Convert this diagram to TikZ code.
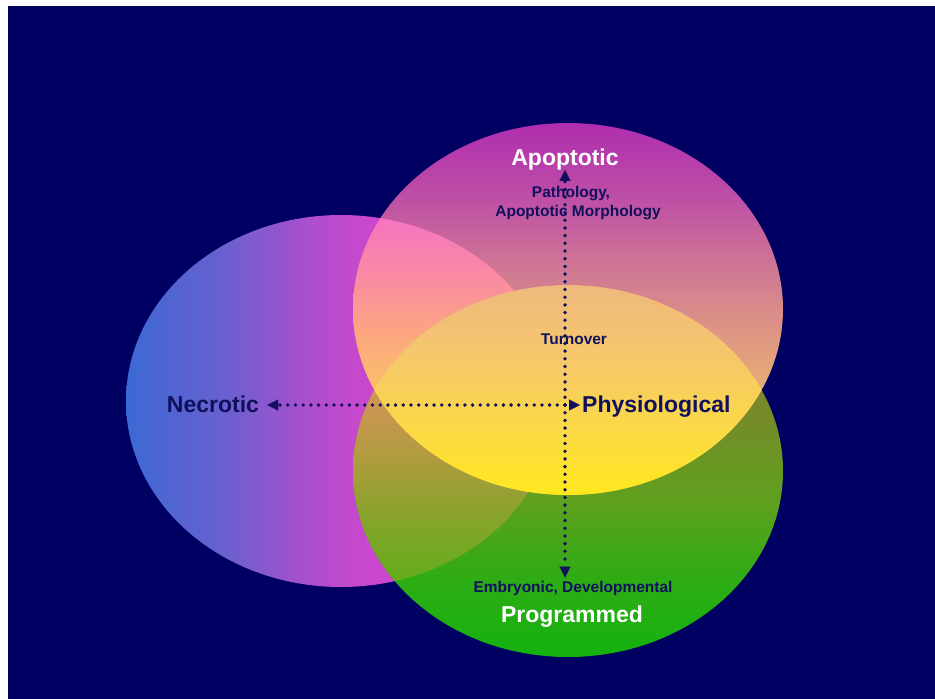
\documentclass[tikz,border=0pt]{standalone}
\usepackage{fontspec}
\setmainfont{Liberation Sans}
\usetikzlibrary{arrows.meta}
\definecolor{navybg}{RGB}{0,0,98}
\definecolor{ink}{RGB}{16,16,92}
% necrotic (horizontal)
\definecolor{n0}{RGB}{58,105,212}
\definecolor{n1}{RGB}{110,95,207}
\definecolor{n2}{RGB}{165,80,205}
\definecolor{n3}{RGB}{200,72,205}
\definecolor{n4}{RGB}{215,68,205}
% apoptotic only
\definecolor{a0}{RGB}{235,185,115}
\definecolor{a1}{RGB}{230,170,120}
\definecolor{a2}{RGB}{222,148,132}
\definecolor{a3}{RGB}{205,115,150}
\definecolor{a4}{RGB}{190,80,165}
\definecolor{a5}{RGB}{175,45,175}
% apoptotic & necrotic
\definecolor{an0}{RGB}{253,210,80}
\definecolor{an1}{RGB}{253,195,100}
\definecolor{an2}{RGB}{252,170,125}
\definecolor{an3}{RGB}{250,140,160}
\definecolor{an4}{RGB}{245,115,195}
% apoptotic & programmed
\definecolor{ap0}{RGB}{255,232,30}
\definecolor{ap1}{RGB}{250,215,75}
\definecolor{ap2}{RGB}{245,198,110}
\definecolor{ap3}{RGB}{238,185,125}
% programmed only
\definecolor{p0}{RGB}{20,178,15}
\definecolor{p1}{RGB}{45,172,20}
\definecolor{p2}{RGB}{95,160,30}
\definecolor{p3}{RGB}{122,135,42}
\definecolor{p4}{RGB}{130,125,50}
% necrotic & programmed
\definecolor{np0}{RGB}{80,176,22}
\definecolor{np1}{RGB}{105,172,30}
\definecolor{np2}{RGB}{140,162,45}
\definecolor{np3}{RGB}{180,155,65}
\definecolor{np4}{RGB}{205,150,85}
\pgfdeclarehorizontalshading{nshade}{100bp}{color(0bp)=(n0); color(25bp)=(n0); color(37.1bp)=(n1); color(45.2bp)=(n2); color(52.2bp)=(n3); color(75bp)=(n4); color(100bp)=(n4)}
\pgfdeclareverticalshading{ashade}{100bp}{color(0bp)=(a0); color(25bp)=(a0); color(40.5bp)=(a1); color(47.2bp)=(a2); color(56.6bp)=(a3); color(64.7bp)=(a4); color(75bp)=(a5); color(100bp)=(a5)}
\pgfdeclareverticalshading{anshade}{100bp}{color(0bp)=(an0); color(25bp)=(an0); color(37.8bp)=(an1); color(45.8bp)=(an2); color(53.9bp)=(an3); color(62.6bp)=(an4); color(100bp)=(an4)}
\pgfdeclareverticalshading{apshade}{100bp}{color(0bp)=(ap0); color(25bp)=(ap0); color(35.1bp)=(ap1); color(44.5bp)=(ap2); color(53.2bp)=(ap3); color(100bp)=(ap3)}
\pgfdeclareverticalshading{pshade}{100bp}{color(0bp)=(p0); color(25bp)=(p0); color(35.3bp)=(p1); color(46.1bp)=(p2); color(59.5bp)=(p3); color(75bp)=(p4); color(100bp)=(p4)}
\pgfdeclareverticalshading{npshade}{100bp}{color(0bp)=(np0); color(25bp)=(np0); color(36.7bp)=(np1); color(44.8bp)=(np2); color(52.8bp)=(np3); color(59.5bp)=(np4); color(100bp)=(np4)}
\begin{document}
\begin{tikzpicture}[x=1pt,y=-1pt,
  bigtxt/.style={font=\fontsize{23}{27}\selectfont\bfseries, inner sep=0pt, anchor=base},
  smalltxt/.style={font=\fontsize{15.5}{18}\selectfont\bfseries, inner sep=0pt, anchor=base, text=ink},
  dotline/.style={draw=ink, line width=3.8pt, line cap=round, dash pattern=on 0pt off 7.7pt,
    -{Triangle[length=11pt,width=11pt,line width=0.1pt]}}]
\useasboundingbox (0,0) rectangle (935,699);
\fill[white] (0,0) rectangle (935,699);
\fill[navybg] (8,6) rectangle (935,699);
% Necrotic ellipse
\shade[shading=nshade] (341,401) ellipse [x radius=215, y radius=186];
% Programmed ellipse
\begin{scope}
  \clip (568,471) ellipse [x radius=215, y radius=186];
  \shade[shading=pshade] (353,285) rectangle (783,657);
\end{scope}
% Necrotic & Programmed
\begin{scope}
  \clip (568,471) ellipse [x radius=215, y radius=186];
  \clip (341,401) ellipse [x radius=215, y radius=186];
  \shade[shading=npshade] (353,285) rectangle (783,657);
\end{scope}
% Apoptotic ellipse
\begin{scope}
  \clip (568,309) ellipse [x radius=215, y radius=186];
  \shade[shading=ashade] (353,123) rectangle (783,495);
\end{scope}
% Apoptotic & Necrotic
\begin{scope}
  \clip (568,309) ellipse [x radius=215, y radius=186];
  \clip (341,401) ellipse [x radius=215, y radius=186];
  \shade[shading=anshade] (353,123) rectangle (783,495);
\end{scope}
% Apoptotic & Programmed
\begin{scope}
  \clip (568,309) ellipse [x radius=215, y radius=186];
  \clip (568,471) ellipse [x radius=215, y radius=186];
  \shade[shading=apshade] (353,123) rectangle (783,495);
\end{scope}
% Labels
\node[bigtxt, text=white] (apop) at (565,165) {Apoptotic};
\node[smalltxt] (path1) at (571,197) {Pathology,};
\node[smalltxt] (path2) at (578,216) {Apoptotic Morphology};
\node[smalltxt] (turn) at (574,344) {Turnover};
\node[bigtxt, text=ink] (necro) at (213,412) {Necrotic};
\node[bigtxt, text=ink, anchor=base west] (phys) at (582,412) {Physiological};
\node[smalltxt] (embryo) at (573,592) {Embryonic, Developmental};
\node[bigtxt, text=white] (prog) at (572,622) {Programmed};
% Arrows
\coordinate (c) at (565,405);
\draw[dotline] (c) -- (c |- apop.south);
\draw[dotline] (c) -- ([yshift=3pt]c |- embryo.north);
\draw[dotline] (c) -- ([xshift=8pt]necro.east |- c);
\draw[dotline] (c) -- ([xshift=-2pt]phys.west |- c);
\end{tikzpicture}
\end{document}
